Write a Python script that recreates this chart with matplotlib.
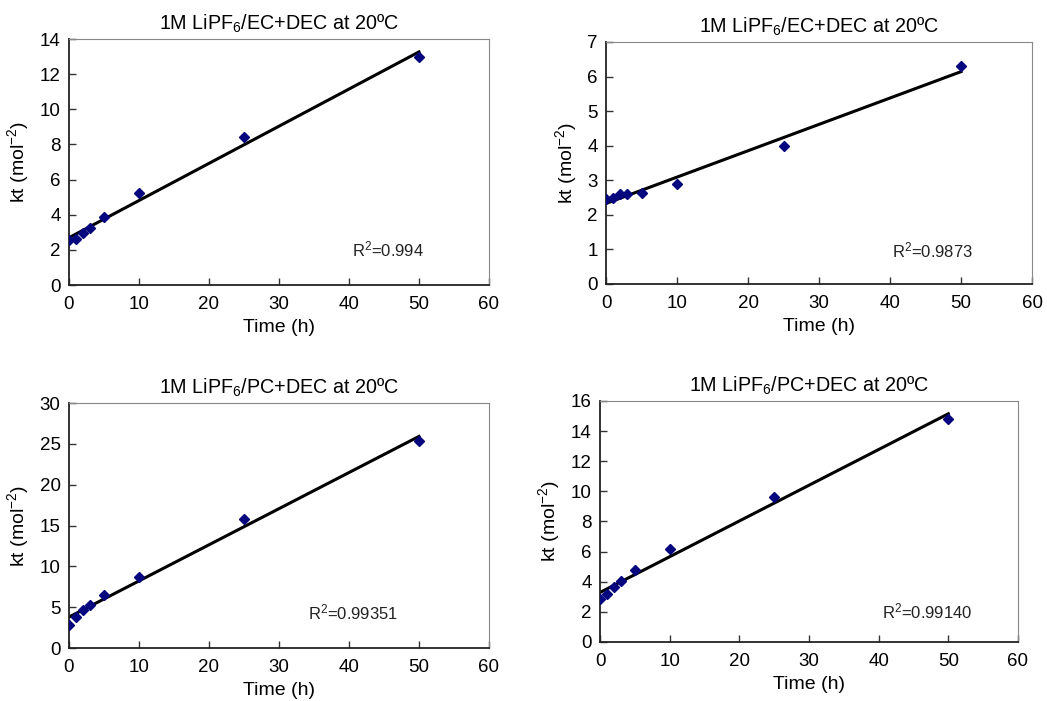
import matplotlib
matplotlib.use('Agg')
import matplotlib.pyplot as plt
import numpy as np

plt.rcParams['font.family'] = ['Liberation Sans', 'DejaVu Sans']
plt.rcParams['mathtext.fontset'] = 'custom'
plt.rcParams['mathtext.rm'] = 'Liberation Sans'
plt.rcParams['mathtext.it'] = 'Liberation Sans'

# storage time (h), same for every cell
time_h = [0, 1, 2, 3, 5, 10, 25, 50]

kt_ec_a = [2.57, 2.60, 2.95, 3.27, 3.86, 5.23, 8.40, 12.98]
kt_ec_b = [2.46, 2.48, 2.60, 2.60, 2.62, 2.89, 4.00, 6.30]
kt_pc_a = [2.77, 3.75, 4.70, 5.30, 6.47, 8.75, 15.75, 25.30]
kt_pc_b = [2.82, 3.20, 3.65, 4.03, 4.77, 6.16, 9.62, 14.83]

titles = ['1M LiPF$_6$/EC+DEC at 20ºC', '1M LiPF$_6$/EC+DEC at 20ºC',
          '1M LiPF$_6$/PC+DEC at 20ºC', '1M LiPF$_6$/PC+DEC at 20ºC']
r2_labels = ['R$^2$=0.994', 'R$^2$=0.9873', 'R$^2$=0.99351', 'R$^2$=0.99140']
r2_pos = [(45.5, 2.0), (46, 0.98), (40.6, 4.4), (47, 2.0)]
y_max = [14, 7, 30, 16]
y_step = [2, 1, 5, 2]

# axes rectangles in figure fractions
rects = [
    [0.0659, 0.5934, 0.4011, 0.3509],
    [0.5788, 0.5949, 0.4069, 0.3452],
    [0.0659, 0.0756, 0.4011, 0.3495],
    [0.5731, 0.0842, 0.3992, 0.3438],
]

fig = plt.figure(figsize=(10.47, 7.01), dpi=100)
series = [kt_ec_a, kt_ec_b, kt_pc_a, kt_pc_b]

for i, kt in enumerate(series):
    ax = fig.add_axes(rects[i])
    x = np.array(time_h, dtype=float)
    y = np.array(kt)

    # linear fit
    slope, icpt = np.polyfit(x, y, 1)
    xf = np.array([0, 50])
    ax.plot(xf, slope * xf + icpt, color='black', lw=2.2, zorder=2)
    ax.plot(x, y, ls='none', marker='D', ms=5.5, color='#06067f', zorder=3)

    ax.set_xlim(0, 60)
    ax.set_ylim(0, y_max[i])
    ax.set_xticks(range(0, 61, 10))
    ax.set_yticks(np.arange(0, y_max[i] + 0.1, y_step[i]))
    ax.tick_params(direction='in', length=5, width=1, labelsize=13.5,
                   color='#333333', pad=6)
    ax.tick_params(axis='x', pad=8)

    ax.spines['left'].set_color('#222222')
    ax.spines['bottom'].set_color('#222222')
    ax.spines['left'].set_linewidth(1.3)
    ax.spines['bottom'].set_linewidth(1.3)
    ax.spines['top'].set_color('#888888')
    ax.spines['right'].set_color('#888888')

    ax.set_title(titles[i], fontsize=14.2, pad=7)
    ax.set_xlabel('Time (h)', fontsize=14, labelpad=4)
    ax.set_ylabel('kt (mol$^{\\mathregular{-2}}$)', fontsize=14, labelpad=6)
    ax.text(r2_pos[i][0], r2_pos[i][1], r2_labels[i], ha='center', va='center',
            fontsize=12, color='#222222')

fig.savefig('out.png', dpi=100, facecolor='white')
